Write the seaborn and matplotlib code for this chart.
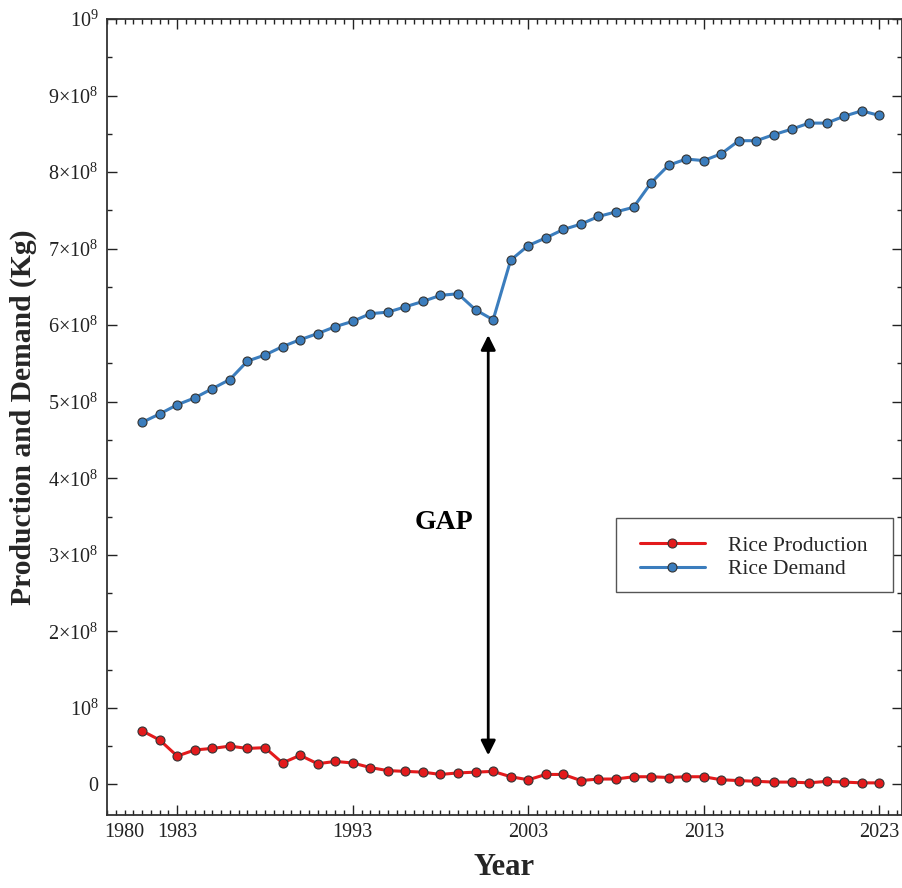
import matplotlib
matplotlib.use("Agg")
import matplotlib.pyplot as plt
import matplotlib.ticker as mticker
from matplotlib.patches import Rectangle
import seaborn as sns
import pandas as pd

years = list(range(1981, 2024))

# Rice demand in units of 1e8 kg
demand = [4.73, 4.84, 4.96, 5.05, 5.17, 5.29, 5.53, 5.61, 5.72, 5.81,
          5.89, 5.98, 6.05, 6.15, 6.17, 6.24, 6.31, 6.39, 6.41, 6.20,
          6.07, 6.85, 7.04, 7.14, 7.25, 7.32, 7.42, 7.48, 7.54, 7.86,
          8.09, 8.17, 8.15, 8.24, 8.41, 8.41, 8.49, 8.56, 8.64, 8.64,
          8.73, 8.80, 8.74]

# Rice production in units of 1e8 kg
production = [0.70, 0.58, 0.37, 0.45, 0.47, 0.50, 0.47, 0.48, 0.28, 0.38,
              0.27, 0.30, 0.28, 0.22, 0.18, 0.17, 0.16, 0.13, 0.15, 0.16,
              0.17, 0.10, 0.06, 0.13, 0.13, 0.05, 0.07, 0.07, 0.10, 0.10,
              0.09, 0.10, 0.10, 0.06, 0.05, 0.04, 0.03, 0.03, 0.02, 0.04,
              0.03, 0.02, 0.02]

series_names = ["Rice Production", "Rice Demand"]
series_colors = ["#e31a1c", "#3b7dbd"]

x_major = [1983, 1993, 2003, 2013, 2023]
y_major = list(range(0, 11))
y_labels = ["0", r"$10^{8}$"] + [r"$%d{\times}10^{8}$" % k for k in range(2, 10)] + [r"$10^{9}$"]

scale = 1e8
df = pd.DataFrame({
    "Year": years * 2,
    "Value": [v * scale for v in production] + [v * scale for v in demand],
    "Series": [series_names[0]] * len(years) + [series_names[1]] * len(years),
})

sns.set_theme(style="ticks")
plt.rcParams["font.family"] = ["Liberation Serif", "DejaVu Serif"]
plt.rcParams["mathtext.fontset"] = "custom"
plt.rcParams["mathtext.rm"] = "Liberation Serif"
plt.rcParams["mathtext.it"] = "Liberation Serif:italic"
plt.rcParams["mathtext.bf"] = "Liberation Serif:bold"

fig = plt.figure(figsize=(9.03, 8.88), dpi=100)
ax = fig.add_axes([0.1185, 0.0822, 0.8805, 0.8964])

sns.lineplot(data=df, x="Year", y="Value", hue="Series",
             palette=dict(zip(series_names, series_colors)),
             marker="o", markersize=6.5, markeredgecolor="#333333",
             markeredgewidth=0.8, linewidth=2.2, ax=ax)

ax.set_xlim(1979, 2024.3)
ax.set_ylim(-0.4 * scale, 10 * scale)

ax.set_xticks(x_major)
ax.set_xticklabels([str(v) for v in x_major])
ax.xaxis.set_minor_locator(mticker.MultipleLocator(0.5))
ax.xaxis.set_minor_formatter(mticker.FuncFormatter(lambda v, p: "1980" if abs(v - 1980) < 1e-6 else ""))

ax.set_yticks([k * scale for k in y_major])
ax.set_yticklabels(y_labels)
ax.yaxis.set_minor_locator(mticker.MultipleLocator(0.5 * scale))

ax.tick_params(which="both", direction="in", top=True, right=True,
               colors="#222222", labelsize=14.5, width=1.0, pad=6)
ax.tick_params(which="major", length=7)
ax.tick_params(which="minor", length=3.5)
for s in ax.spines.values():
    s.set_linewidth(1.3)
    s.set_color("#333333")

ax.set_xlabel("Year", fontsize=22, fontweight="bold", labelpad=8)
ax.set_ylabel("Production and Demand (Kg)", fontsize=21.3, fontweight="bold", labelpad=8)

ax.annotate("", xy=(2000.72, 5.87 * scale), xytext=(2000.72, 0.38 * scale),
            arrowprops=dict(arrowstyle="<|-|>", color="black", lw=2,
                            mutation_scale=22, shrinkA=0, shrinkB=0))
ax.text(1998.2, 3.42 * scale, "GAP", fontsize=20, fontweight="bold",
        ha="center", va="center", color="black")

# legend frame box
ax.add_patch(Rectangle((0.640, 0.280), 0.349, 0.093, transform=ax.transAxes,
                       facecolor="white", edgecolor="#555555", linewidth=1.0,
                       zorder=4.9))
leg = ax.legend(loc="center left", bbox_to_anchor=(0.6704, 0.3235), fontsize=15.5,
                frameon=False, handlelength=3.0, handletextpad=1.1, borderpad=0,
                labelspacing=0.15, borderaxespad=0)
leg.set_zorder(5)
leg.set_title(None)

fig.savefig("out.png", dpi=100)
